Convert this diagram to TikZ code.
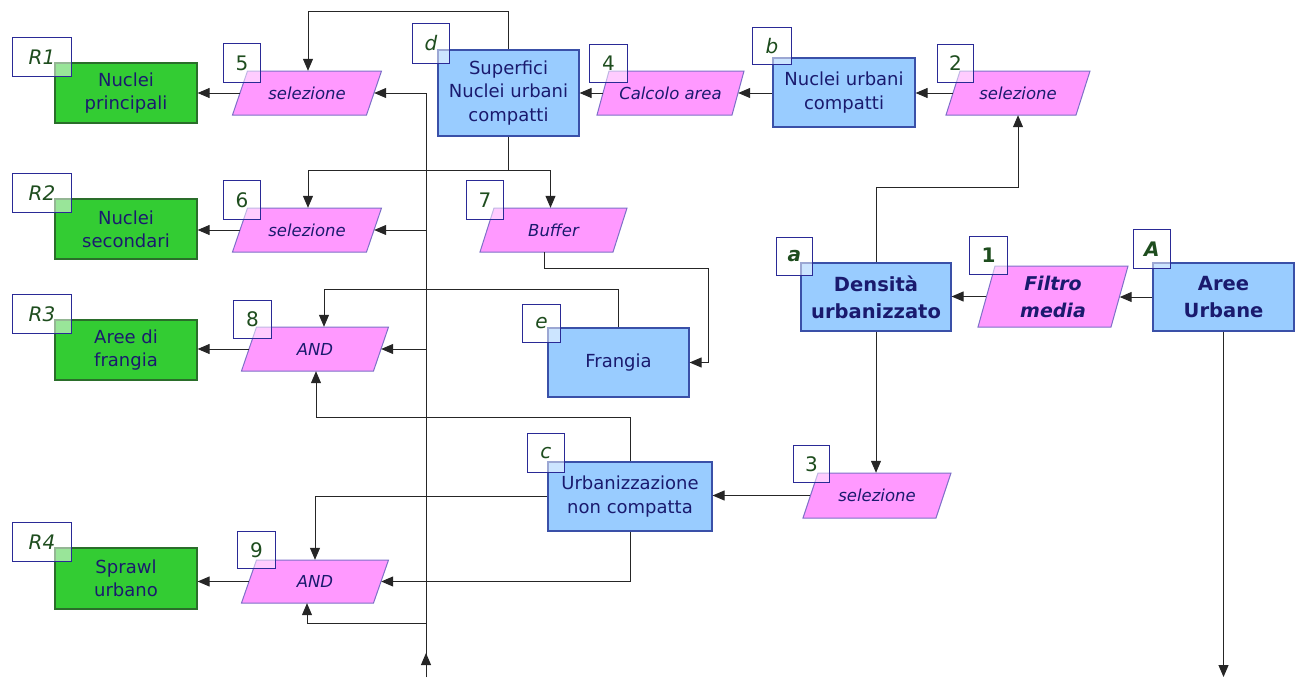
\documentclass[tikz,border=0pt]{standalone}
\usepackage{fontspec}
\setmainfont{DejaVu Sans}
\usetikzlibrary{arrows.meta,calc}
\definecolor{gfill}{HTML}{33CC33}
\definecolor{gdraw}{HTML}{2A6E2A}
\definecolor{bfill}{HTML}{99CCFF}
\definecolor{bdraw}{HTML}{3A50A8}
\definecolor{pfill}{HTML}{FF99FF}
\definecolor{pdraw}{HTML}{7E70C8}
\definecolor{navy}{HTML}{1A1A6E}
\definecolor{lgreen}{HTML}{1E4D1E}
\definecolor{lblue}{HTML}{2A2A96}
\newcommand\mypara[7]{%
  \filldraw[parashape] (#2-#4/2+#6/2, #3-#5/2) -- (#2+#4/2+#6/2, #3-#5/2) -- (#2+#4/2-#6/2, #3+#5/2) -- (#2-#4/2-#6/2, #3+#5/2) -- cycle;
  \node[paratext, minimum width=#4, minimum height=#5] (#1) at (#2,#3) {#7};
}
\begin{document}
\begin{tikzpicture}[x=1pt,y=-1pt,
  gbox/.style={draw=gdraw, fill=gfill, line width=1.2pt, text=navy, align=center, inner sep=0pt, font=\fontsize{18}{23}\selectfont},
  bbox/.style={draw=bdraw, fill=bfill, line width=1.2pt, text=navy, align=center, inner sep=0pt, font=\fontsize{18}{23.5}\selectfont},
  boldtxt/.style={font=\fontsize{19.5}{27}\selectfont\bfseries},
  parashape/.style={fill=pfill, draw=pdraw, line width=1pt},
  paratext/.style={inner sep=0pt, align=center, text=navy, font=\fontsize{16.5}{20}\selectfont\itshape},
  lab/.style={draw=lblue, fill=white, fill opacity=0.5, text opacity=1, text=lgreen, line width=0.9pt, inner sep=0pt, anchor=north west, font=\fontsize{20}{20}\selectfont},
  arr/.style={draw=black!85, line width=1pt, -{Triangle[length=12pt,width=10pt]}},
]
\useasboundingbox (0,0) rectangle (1303,677);

% green result boxes
\node[gbox, minimum width=142, minimum height=60] (R1) at (126,93) {Nuclei\\principali};
\node[gbox, minimum width=142, minimum height=60] (R2) at (126,229) {Nuclei\\secondari};
\node[gbox, minimum width=142, minimum height=60] (R3) at (126,350) {Aree di\\frangia};
\node[gbox, minimum width=142, minimum height=61] (R4) at (126,578.5) {Sprawl\\urbano};

% blue boxes
\node[bbox, minimum width=141, minimum height=86] (d) at (508.5,93) {Superfici\\Nuclei urbani\\compatti};
\node[bbox, minimum width=142, minimum height=69] (b) at (844,92.5) {Nuclei urbani\\compatti};
\node[bbox, boldtxt, minimum width=150, minimum height=68] (a) at (876,297) {Densità\\urbanizzato};
\node[bbox, boldtxt, minimum width=141, minimum height=68] (A) at (1223.5,297) {Aree\\Urbane};
\node[bbox, minimum width=141, minimum height=69] (e) at (618.5,362.5) {Frangia};
\node[bbox, minimum width=164, minimum height=69] (c) at (630,496.5) {Urbanizzazione\\non compatta};

% parallelograms
\mypara{p5}{307}{93}{134}{44}{15}{selezione}
\mypara{p6}{307}{230}{134}{44}{15}{selezione}
\mypara{p7}{553.5}{230}{133}{44}{14}{Buffer}
\mypara{p4}{670.5}{93}{135}{44}{12}{Calcolo area}
\mypara{p2}{1018}{93}{130}{44}{14}{selezione}
\mypara{p1}{1053}{296.5}{133}{61}{17}{\fontsize{19}{27}\selectfont\bfseries\itshape Filtro\\[7pt]\fontsize{19}{27}\selectfont\bfseries\itshape media}
\mypara{p8}{315}{349}{132}{44}{15}{AND}
\mypara{p9}{315}{581.5}{132}{43}{15}{AND}
\mypara{p3}{877}{495.5}{133}{45}{15}{selezione}

% helper coordinates
\coordinate (bot) at (426,677);
\coordinate (bot2) at (1224,677);
\coordinate (k1) at (0,187);
\coordinate (k2) at (0,12);
\coordinate (k3) at (0,170);
\coordinate (k4) at (708,268);
\coordinate (k5) at (0,289);
\coordinate (k6) at (0,417);
\coordinate (k7) at (0,623);

% connectors
\draw[arr] (A.west) -- (A.west -| p1.east);
\draw[arr] (p1.west) -- (p1.west -| a.east);
\draw[arr] (a.north) -- (a.north |- k1) -| (p2.south);
\draw[arr] (p2.west) -- (p2.west -| b.east);
\draw[arr] (b.west |- p4.east) -- (p4.east);
\draw[arr] (p4.west) -- (p4.west -| d.east);
\draw[arr] (d.north) -- (d.north |- k2) -| ([xshift=1]p5.north);
\draw[arr] (d.south) -- (d.south |- k3) -| ([xshift=1]p6.north);
\draw[arr] (d.south |- k3) -| ([xshift=-3]p7.north);
\draw[arr] (p5.west) -- (p5.west -| R1.east);
\draw[arr] (p6.west) -- (p6.west -| R2.east);
\draw[arr] (p8.west) -- (p8.west -| R3.east);
\draw[arr] (p9.west) -- (p9.west -| R4.east);
\draw[arr] (bot) -- ++(0,-24);
\draw[arr] (bot) |- (p5.east);
\draw[arr] (bot |- p6.east) -- (p6.east);
\draw[arr] (bot |- p8.east) -- (p8.east);
\draw[arr] (bot |- k7) -| ([xshift=-8]p9.south);
\draw[arr] ([xshift=-9]p7.south) |- (k4) |- (e.east);
\draw[arr] (e.north) -- (e.north |- k5) -| ([xshift=9]p8.north);
\draw[arr] (c.north) -- (c.north |- k6) -| ([xshift=1]p8.south);
\draw[arr] (p3.west) -- (p3.west -| c.east);
\draw[arr] (a.south) -- (a.south |- p3.north);
\draw[arr] (c.west) -| (p9.north);
\draw[arr] (c.south) |- (p9.east);
\draw[arr] (A.south) -- (A.south |- bot2);

% labels
\node[lab, minimum width=59, minimum height=39] (lR1) at (12,37) {\itshape R1};
\node[lab, minimum width=59, minimum height=39] (lR2) at (12,173) {\itshape R2};
\node[lab, minimum width=59, minimum height=39] (lR3) at (12,294) {\itshape R3};
\node[lab, minimum width=59, minimum height=39] (lR4) at (12,522) {\itshape R4};
\node[lab, minimum width=37, minimum height=39] (l5) at (223,43) {5};
\node[lab, minimum width=37, minimum height=39] (l6) at (223,180) {6};
\node[lab, minimum width=37, minimum height=39] (l7) at (466,180) {7};
\node[lab, minimum width=38, minimum height=38] (l8) at (233,300) {8};
\node[lab, minimum width=38, minimum height=37] (l9) at (237,531) {9};
\node[lab, minimum width=37, minimum height=40] (ld) at (412,23) {\itshape d};
\node[lab, minimum width=38, minimum height=38] (l4) at (589,44) {4};
\node[lab, minimum width=39, minimum height=37] (lb) at (752,27) {\itshape b};
\node[lab, minimum width=36, minimum height=38] (l2) at (937,44) {2};
\node[lab, minimum width=36, minimum height=38] (la) at (776,237) {\bfseries\itshape a};
\node[lab, minimum width=38, minimum height=38] (l1) at (969,236) {\bfseries 1};
\node[lab, minimum width=37, minimum height=39] (lA) at (1133,229) {\bfseries\itshape A};
\node[lab, minimum width=38, minimum height=38] (le) at (522,304) {\itshape e};
\node[lab, minimum width=37, minimum height=39] (lc) at (527,433) {\itshape c};
\node[lab, minimum width=36, minimum height=37] (l3) at (793,445) {3};
\end{tikzpicture}
\end{document}
